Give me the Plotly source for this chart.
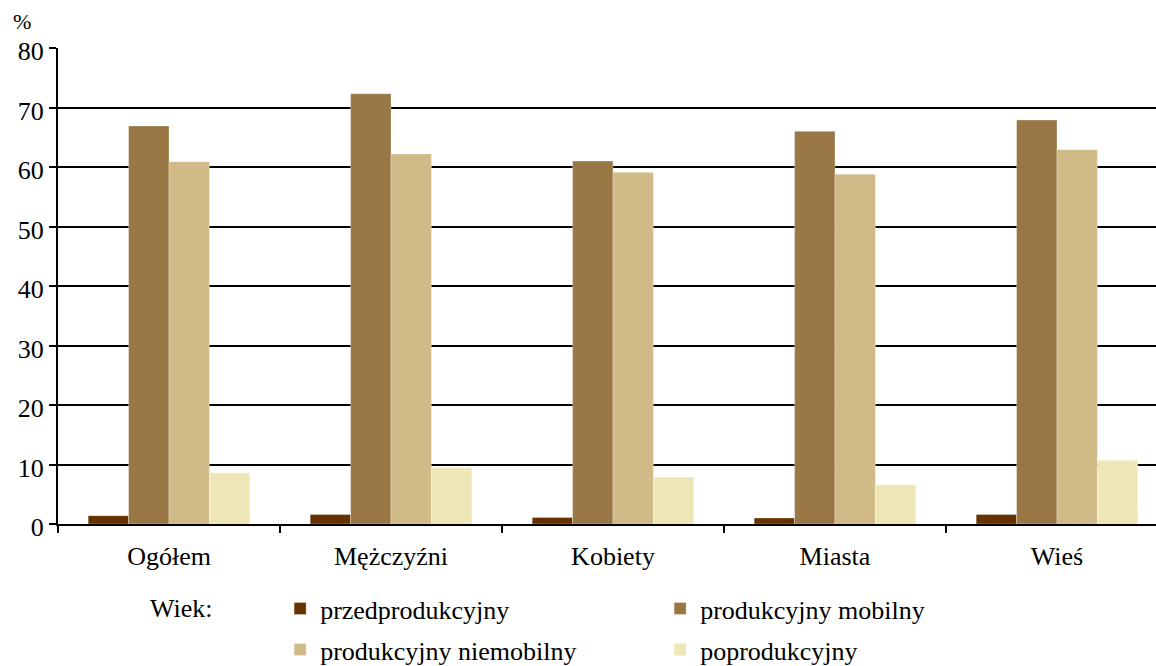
import plotly.graph_objects as go

categories = ["Ogółem", "Mężczyźni", "Kobiety", "Miasta", "Wieś"]
series_names = ["przedprodukcyjny", "produkcyjny mobilny", "produkcyjny niemobilny", "poprodukcyjny"]
przedprodukcyjny = [1.4, 1.6, 1.1, 1.0, 1.6]
produkcyjny_mobilny = [66.9, 72.3, 61.0, 66.0, 67.9]
produkcyjny_niemobilny = [60.9, 62.2, 59.1, 58.8, 62.9]
poprodukcyjny = [8.6, 9.5, 7.9, 6.6, 10.7]
colors = ["#663300", "#997744", "#cfba88", "#efe6b8"]
y_ticks = [0, 10, 20, 30, 40, 50, 60, 70, 80]

FONT = "Liberation Serif"
FS = 26
values = [przedprodukcyjny, produkcyjny_mobilny, produkcyjny_niemobilny, poprodukcyjny]
legends = ["legend", "legend", "legend2", "legend2"]

fig = go.Figure()
for name, vals, col, lg in zip(series_names, values, colors, legends):
    fig.add_trace(go.Bar(
        x=categories, y=vals, name=name,
        marker=dict(color=col, line=dict(width=0.6, color="rgba(255,255,255,0.5)")),
        legend=lg,
    ))

fig.update_layout(
    width=1156, height=666,
    margin=dict(l=58, r=0, t=48, b=142, autoexpand=False),
    plot_bgcolor="white", paper_bgcolor="white",
    barmode="group", bargap=0.272, bargroupgap=0,
    font=dict(family=FONT, size=FS, color="black"),
    xaxis=dict(
        range=[-0.5, 4.446], showgrid=False, automargin=False,
        showline=True, linecolor="black", linewidth=2,
        ticks="outside", tickson="boundaries", ticklen=7, tickwidth=2, tickcolor="black",
        tickfont=dict(family=FONT, size=FS), ticklabelstandoff=8,
    ),
    yaxis=dict(
        range=[0, 80], tickvals=y_ticks, automargin=False,
        showgrid=True, gridcolor="black", gridwidth=2,
        showline=True, linecolor="black", linewidth=2,
        ticks="outside", ticklen=7, tickwidth=2, tickcolor="black",
        tickfont=dict(family=FONT, size=FS), zeroline=False,
        ticklabelshift=3,
    ),
    legend=dict(
        orientation="h", x=0.2023, xanchor="left", y=-0.1282, yanchor="top",
        entrywidth=335, entrywidthmode="pixels",
        font=dict(family=FONT, size=FS), bgcolor="rgba(0,0,0,0)",
        traceorder="normal",
    ),
    legend2=dict(
        orientation="h", x=0.2023, xanchor="left", y=-0.2146, yanchor="top",
        entrywidth=335, entrywidthmode="pixels",
        font=dict(family=FONT, size=FS), bgcolor="rgba(0,0,0,0)",
        traceorder="normal",
    ),
    showlegend=True,
    annotations=[
        dict(text="%", xref="paper", yref="paper", x=0, y=1.0, xanchor="left", yanchor="bottom",
             xshift=-47, yshift=12, showarrow=False, font=dict(family=FONT, size=22)),
        dict(text="Wiek:", xref="paper", yref="paper", x=0.082, y=-0.177, xanchor="left", yanchor="middle",
             showarrow=False, font=dict(family=FONT, size=FS)),
    ],
)

fig.write_html("out.html", config={"displayModeBar": False},
               post_script="document.body.style.margin='0';")
